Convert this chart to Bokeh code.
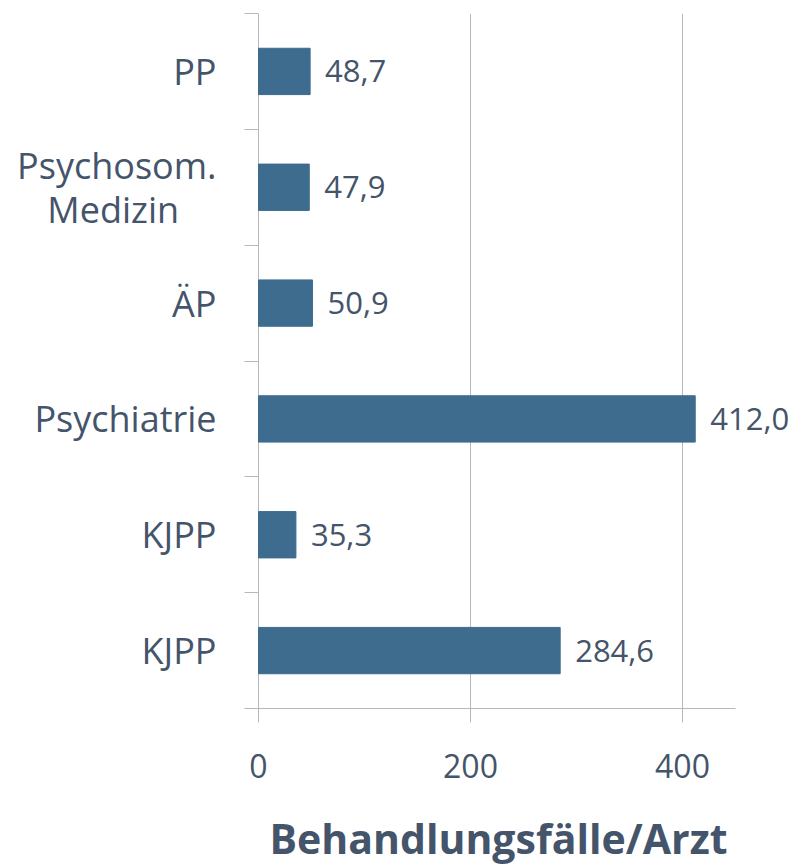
import math
from bokeh.plotting import figure
from bokeh.models import FixedTicker, ColumnDataSource, Range1d, LabelSet
from bokeh.core.properties import value
from bokeh.embed import file_html
from bokeh.resources import INLINE

categories = ["PP", "Psychosom.\nMedizin\u00a0\u00a0\u00a0\u00a0", "ÄP", "Psychiatrie", "KJPP", "KJPP"]
values = [48.7, 47.9, 50.9, 412.0, 35.3, 284.6]
value_labels = ["48,7", "47,9", "50,9", "412,0", "35,3", "284,6"]
x_ticks = [0, 200, 400]
x_tick_labels = ["0", "200", "400"]
x_title = "Behandlungsfälle/Arzt"
x_max = 450

n = len(categories)
centers = [n - 0.5 - i for i in range(n)]
boundaries = list(range(n + 1))

FONT = "Open Sans"
TXT = "#44546A"
GRID = "#B5B9BD"
BAR = "#3D6C8E"

# layout (pixels)
W, H = 792, 865
LEFT, TOP = 244, 13
AXIS_Y = 708          # pixel row of the value axis
ZERO_X = 258          # pixel column of value 0
PX_PER_UNIT = 1.06
TICK = 14
TITLE_CX = 498        # pixel column of the axis title centre

unit_y = (AXIS_Y - TOP) / n
x_start = -(ZERO_X - LEFT) / PX_PER_UNIT
x_end = (W - ZERO_X) / PX_PER_UNIT
y_start = -(H - AXIS_Y) / unit_y
title_x = (TITLE_CX - ZERO_X) / PX_PER_UNIT

src = ColumnDataSource(dict(y=centers, v=values, lab=value_labels))
tick_src = ColumnDataSource(dict(x=x_ticks, lab=x_tick_labels))

p = figure(width=W, height=H, output_backend="svg", toolbar_location=None,
           x_range=Range1d(x_start, x_end), y_range=Range1d(y_start, n),
           min_border_left=LEFT, min_border_top=TOP, min_border_right=0,
           min_border_bottom=0)
p.outline_line_color = None
p.background_fill_color = "white"
p.xaxis.visible = False
p.xgrid.grid_line_color = None
p.ygrid.grid_line_color = None

# grid lines (value axis) over the category band
p.segment(x0="x", y0=0, x1="x", y1=n, source=tick_src, line_color=GRID, line_width=1)
# value axis line
p.segment(x0=x_start, y0=0, x1=x_max, y1=0, line_color=GRID, line_width=1)
# value axis tick marks (half above overlaps the grid line)
p.scatter(x="x", y=0, source=tick_src, marker="dash", size=2 * TICK, angle=math.pi / 2,
          line_color=GRID, line_width=1)
# value axis tick labels
p.text(x="x", y=0, text="lab", source=tick_src, y_offset=57,
       text_align="center", text_baseline="alphabetic",
       text_font=value(FONT), text_font_size="32px", text_color=TXT)
# axis title
p.text(x=[title_x], y=[0], text=[x_title], y_offset=129,
       text_align="center", text_baseline="alphabetic",
       text_font=value(FONT), text_font_size="41px", text_font_style="bold",
       text_color=TXT)

# bars
p.hbar(y="y", left=0, right="v", height=0.4, source=src, color=BAR)

labels = LabelSet(x="v", y="y", text="lab", source=src, x_offset=15,
                  text_baseline="middle", text_align="left",
                  text_font=value(FONT), text_font_size="31px", text_color=TXT)
p.add_layout(labels)

# category axis
p.yaxis.ticker = FixedTicker(ticks=centers, minor_ticks=boundaries)
p.yaxis.major_label_overrides = {c: lab for c, lab in zip(centers, categories)}
p.yaxis.axis_line_color = None
p.yaxis.major_tick_line_color = None
p.yaxis.minor_tick_in = TICK
p.yaxis.minor_tick_out = 0
p.yaxis.minor_tick_line_color = GRID
p.yaxis.major_label_text_font = FONT
p.yaxis.major_label_text_font_size = "36px"
p.yaxis.major_label_text_color = TXT
p.yaxis.major_label_text_line_height = 0.9
p.yaxis.major_label_standoff = 22

open("out.html", "w").write(file_html(p, INLINE))
